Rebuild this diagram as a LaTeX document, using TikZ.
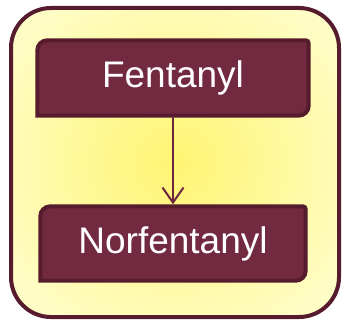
\documentclass[tikz,border=0pt]{standalone}
\usepackage{fontspec}
\setmainfont{Liberation Sans}
\usetikzlibrary{arrows.meta,backgrounds}
\definecolor{boxfill}{HTML}{722A40}
\definecolor{boxline}{HTML}{561B2D}
\definecolor{outline}{HTML}{561B2D}
\definecolor{arrowcol}{HTML}{6E2640}
\pgfdeclareradialshading{glow}{\pgfpoint{0bp}{0bp}}{%
  rgb(0bp)=(1,0.957,0.45);
  rgb(12bp)=(1,0.97,0.57);
  rgb(30bp)=(1,0.99,0.77);
  rgb(48bp)=(1,1,0.84);
  rgb(70bp)=(1,1,0.85)}
\tikzset{
  stepbox/.style={draw=none, inner sep=0pt, text=white,
    font=\fontsize{37}{42}\selectfont},
  link/.style={draw=arrowcol, line width=2pt,
    -{Straight Barb[length=15pt,width=21pt,line width=2pt]}},
}
\newcommand{\diagbox}[1]{%
  \draw[fill=boxfill, draw=boxline, line width=4pt]
    (#1.south west) -- ([yshift=-10pt]#1.north west)
    arc[start angle=180,end angle=90,radius=10pt]
    -- ([xshift=-3pt]#1.north east)
    arc[start angle=90,end angle=0,radius=3pt]
    -- ([yshift=10pt]#1.south east)
    arc[start angle=0,end angle=-90,radius=10pt]
    -- cycle;}
\begin{document}
\begin{tikzpicture}[x=1pt,y=1pt]
\useasboundingbox (0,0) rectangle (343,322);
\node[stepbox, minimum width=271pt, minimum height=75pt] (f) at (173,244) {Fentanyl};
\node[stepbox, minimum width=265pt, minimum height=74pt] (n) at (173,78.5) {Norfentanyl};
\begin{scope}[on background layer]
  \draw[draw=outline, line width=4pt, rounded corners=40pt, shading=glow]
    (11,5) rectangle (339,314);
  \diagbox{f}
  \diagbox{n}
\end{scope}
\draw[link, shorten >=2pt] (f.south) -- (n.north);
\end{tikzpicture}
\end{document}
